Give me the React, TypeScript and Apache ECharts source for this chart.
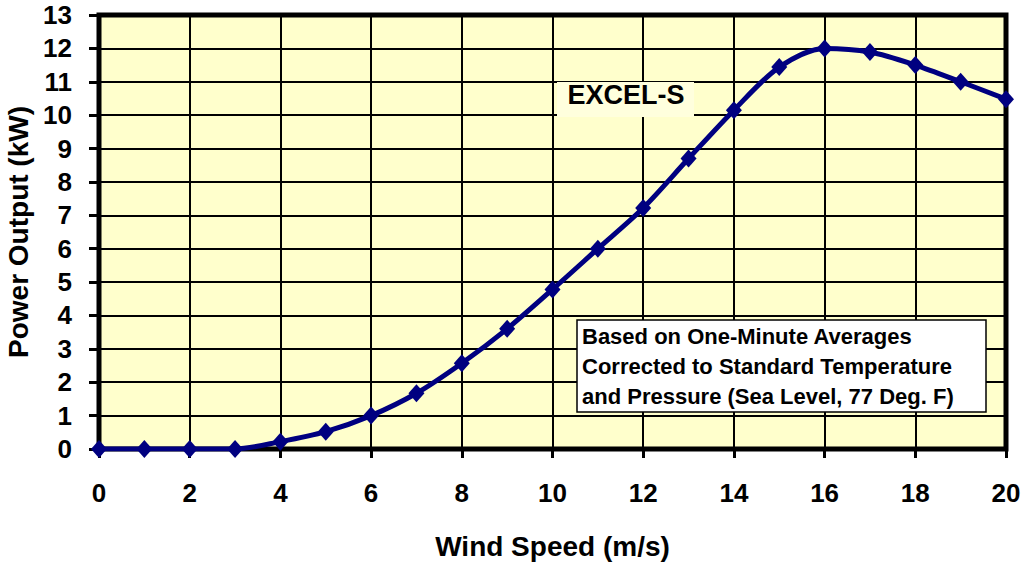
import React, { useEffect, useRef } from "react";
import * as echarts from "echarts";

const windSpeed = [0, 1, 2, 3, 4, 5, 6, 7, 8, 9, 10, 11, 12, 13, 14, 15, 16, 17, 18, 19, 20];
const powerKW = [0, 0, 0, 0, 0.22, 0.52, 1.0, 1.67, 2.57, 3.6, 4.78, 6.0, 7.22, 8.7, 10.15, 11.44, 12.0, 11.89, 11.5, 11.0, 10.48];
const seriesLabel = "EXCEL-S";
const noteLines = [
  "Based on One-Minute Averages",
  "Corrected to Standard Temperature",
  "and Pressure (Sea Level, 77 Deg. F)",
];
const xTitle = "Wind Speed (m/s)";
const yTitle = "Power Output (kW)";

const FONT = "'Liberation Sans', Arial, sans-serif";

export default function App() {
  const ref = useRef<HTMLDivElement>(null);
  useEffect(() => {
    if (!ref.current) return;
    const chart = echarts.init(ref.current, undefined, { renderer: "svg" });
    const data = windSpeed.map((x, i) => [x, powerKW[i]]);
    chart.setOption({
      animation: false,
      backgroundColor: "#ffffff",
      grid: {
        left: 99,
        right: 19,
        top: 15,
        bottom: 117,
        show: true,
        backgroundColor: "#FFFFCC",
        borderColor: "#000000",
        borderWidth: 5,
        containLabel: false,
        outerBoundsMode: "none",
        z: 0,
      },
      xAxis: {
        type: "value",
        min: 0,
        max: 20,
        interval: 2,
        name: xTitle,
        nameLocation: "middle",
        nameGap: 83,
        nameTextStyle: { fontFamily: FONT, fontWeight: "bold", fontSize: 28, color: "#000" },
        axisLine: { show: false },
        axisTick: { show: true, length: 9, lineStyle: { color: "#000", width: 3 } },
        axisLabel: { fontFamily: FONT, fontWeight: "bold", fontSize: 26, color: "#000", margin: 31 },
        splitLine: { show: true, lineStyle: { color: "#000", width: 2 } },
      },
      yAxis: {
        type: "value",
        min: 0,
        max: 13,
        interval: 1,
        name: yTitle,
        nameLocation: "middle",
        nameGap: 60,
        nameRotate: 90,
        nameTextStyle: { fontFamily: FONT, fontWeight: "bold", fontSize: 28, color: "#000" },
        axisLine: { show: false },
        axisTick: { show: true, length: 10, lineStyle: { color: "#000", width: 3 } },
        axisLabel: { fontFamily: FONT, fontWeight: "bold", fontSize: 26, color: "#000", margin: 27 },
        splitLine: { show: true, lineStyle: { color: "#000", width: 2 } },
      },
      series: [
        {
          type: "line",
          name: seriesLabel,
          data,
          smooth: 0.3,
          symbol: "diamond",
          symbolSize: [16, 18],
          itemStyle: { color: "#000080" },
          lineStyle: { color: "#000080", width: 5 },
          z: 5,
        },
      ],
      graphic: [
        {
          type: "rect",
          shape: { x: 557, y: 82, width: 137, height: 35 },
          style: { fill: "#FFFFDD" },
          z: 10,
        },
        {
          type: "text",
          x: 626,
          y: 95,
          style: {
            text: seriesLabel,
            fontFamily: FONT,
            fontWeight: "bold",
            fontSize: 27,
            fill: "#000",
            align: "center",
            verticalAlign: "middle",
          },
          z: 11,
        },
        {
          type: "rect",
          shape: { x: 577, y: 320, width: 409, height: 92 },
          style: { fill: "#ffffff", stroke: "#000", lineWidth: 1.5 },
          z: 10,
        },
        {
          type: "text",
          x: 582,
          y: 321,
          style: {
            text: noteLines.join("\n"),
            fontFamily: FONT,
            fontWeight: "bold",
            fontSize: 22,
            lineHeight: 30,
            fill: "#000",
            align: "left",
            verticalAlign: "top",
          },
          z: 11,
        },
      ],
    });
    return () => chart.dispose();
  }, []);
  return <div ref={ref} style={{ width: 1025, height: 566, position: "absolute", left: 0, top: 0 }} />;
}
